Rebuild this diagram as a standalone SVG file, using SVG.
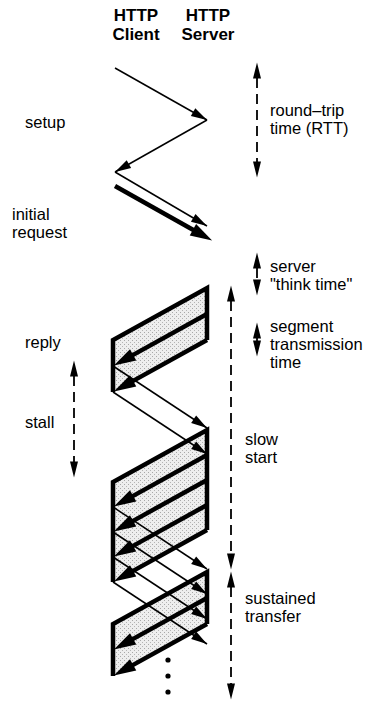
<svg xmlns="http://www.w3.org/2000/svg" width="382" height="706" viewBox="0 0 382 706">
  <style>
    .head { font-family: "Liberation Sans", Arial, sans-serif; font-weight: bold; font-size: 17px; fill: #000; text-anchor: middle; }
    .lbl { font-family: "Liberation Sans", Arial, sans-serif; font-size: 16.5px; fill: #000; }
    .thin { stroke: #000; stroke-width: 1.5; fill: none; }
    .thick { stroke: #000; stroke-width: 4.5; fill: none; }
    .edge { stroke: #000; stroke-width: 4.5; fill: none; stroke-linejoin: miter; }
    .span { stroke: #000; stroke-width: 1.8; fill: none; stroke-dasharray: 10 6; }
    .solid { stroke: #000; stroke-width: 1.8; fill: none; }
    .shade { fill: url(#stipple); stroke: none; }
  </style>
  <defs>
    <pattern id="stipple" width="4" height="4" patternUnits="userSpaceOnUse">
      <rect width="4" height="4" fill="#eeeeee"/>
      <rect x="0" y="0" width="1" height="1" fill="#a8a8a8"/>
      <rect x="2" y="2" width="1" height="1" fill="#b4b4b4"/>
    </pattern>
    <!-- head for thin message lines: tip sits on the line end -->
    <marker id="tip" markerUnits="userSpaceOnUse" markerWidth="16" markerHeight="10" refX="16" refY="4.5" orient="auto" overflow="visible">
      <path d="M0,0 L16,4.5 L0,9 z" fill="#000"/>
    </marker>
    <!-- head for thick segment lines: base sits on the line end -->
    <marker id="big" markerUnits="userSpaceOnUse" markerWidth="22" markerHeight="14" refX="1" refY="6.5" orient="auto" overflow="visible">
      <path d="M0,0 L22,6.5 L0,13 z" fill="#000"/>
    </marker>
    <!-- head for interval arrows: base sits on the line end -->
    <marker id="v" markerUnits="userSpaceOnUse" markerWidth="16" markerHeight="9" refX="0.5" refY="4" orient="auto-start-reverse" overflow="visible">
      <path d="M0,0 L16,4 L0,8 z" fill="#000"/>
    </marker>
  </defs>

  <rect width="382" height="706" fill="#fff"/>

  <!-- column headings -->
  <g id="client-head">
    <text class="head" x="136" y="21">HTTP</text>
    <text class="head" x="136" y="40">Client</text>
  </g>
  <g id="server-head">
    <text class="head" x="208" y="21">HTTP</text>
    <text class="head" x="208" y="40">Server</text>
  </g>

  <!-- data bursts: shaded windows with their outer edges -->
  <g id="burst-1">
    <polygon class="shade" points="207,288 207,340 113,392 113,340"/>
    <polyline class="edge" points="113,392 113,340 207,288 207,340"/>
  </g>
  <g id="burst-2">
    <polygon class="shade" points="207,430 207,530 113,582 113,482"/>
    <polyline class="edge" points="113,582 113,482 207,430 207,530"/>
  </g>
  <g id="burst-3">
    <polygon class="shade" points="207,572 207,624 113,676 113,624"/>
    <polyline class="edge" points="113,676 113,624 207,572 207,624"/>
  </g>

  <g id="connectors">
    <!-- connection setup and request -->
    <line class="thin" x1="115" y1="68" x2="207" y2="120" marker-end="url(#tip)"/>
    <line class="thin" x1="207" y1="120" x2="115" y2="172" marker-end="url(#tip)"/>
    <line class="thin" x1="115" y1="172" x2="207" y2="226" marker-end="url(#tip)"/>
    <line class="thick" x1="115" y1="186" x2="193.8" y2="230.2" marker-end="url(#big)"/>

    <!-- reply segments -->
    <line class="thick" x1="207" y1="314" x2="132.25" y2="355.35" marker-end="url(#big)"/>
    <line class="thick" x1="207" y1="340" x2="132.25" y2="381.35" marker-end="url(#big)"/>
    <line class="thick" x1="207" y1="455" x2="132.25" y2="496.35" marker-end="url(#big)"/>
    <line class="thick" x1="207" y1="480" x2="132.25" y2="521.35" marker-end="url(#big)"/>
    <line class="thick" x1="207" y1="505" x2="132.25" y2="546.35" marker-end="url(#big)"/>
    <line class="thick" x1="207" y1="530" x2="132.25" y2="571.35" marker-end="url(#big)"/>
    <line class="thick" x1="207" y1="598" x2="132.25" y2="639.35" marker-end="url(#big)"/>
    <line class="thick" x1="207" y1="624" x2="132.25" y2="665.35" marker-end="url(#big)"/>

    <!-- acknowledgements -->
    <line class="thin" x1="113" y1="366" x2="207" y2="428" marker-end="url(#tip)"/>
    <line class="thin" x1="113" y1="392" x2="207" y2="454" marker-end="url(#tip)"/>
    <line class="thin" x1="113" y1="507" x2="207" y2="569" marker-end="url(#tip)"/>
    <line class="thin" x1="113" y1="532" x2="207" y2="594" marker-end="url(#tip)"/>
    <line class="thin" x1="113" y1="557" x2="207" y2="619" marker-end="url(#tip)"/>
    <line class="thin" x1="113" y1="582" x2="207" y2="644" marker-end="url(#tip)"/>

    <!-- interval arrows -->
    <line class="span" x1="257" y1="78" x2="257" y2="162" marker-start="url(#v)" marker-end="url(#v)"/>
    <line class="span" x1="257" y1="268" x2="257" y2="280" marker-start="url(#v)" marker-end="url(#v)"/>
    <line class="solid" x1="257" y1="338" x2="257" y2="341" marker-start="url(#v)" marker-end="url(#v)"/>
    <line class="span" x1="74" y1="376" x2="74" y2="462" marker-start="url(#v)" marker-end="url(#v)"/>
    <line class="span" x1="231" y1="301" x2="231" y2="554" marker-start="url(#v)" marker-end="url(#v)"/>
    <line class="span" x1="231" y1="587" x2="231" y2="684" marker-start="url(#v)" marker-end="url(#v)"/>
  </g>

  <!-- continuation dots -->
  <g id="more">
    <circle cx="168" cy="660" r="2.6" fill="#000"/>
    <circle cx="168" cy="676" r="2.6" fill="#000"/>
    <circle cx="168" cy="692" r="2.6" fill="#000"/>
  </g>

  <!-- phase labels -->
  <g id="label-setup"><text class="lbl" x="25" y="128">setup</text></g>
  <g id="label-request"><text class="lbl" x="12" y="220">initial</text><text class="lbl" x="12" y="238">request</text></g>
  <g id="label-reply"><text class="lbl" x="25" y="348">reply</text></g>
  <g id="label-stall"><text class="lbl" x="25" y="428">stall</text></g>
  <g id="label-rtt"><text class="lbl" x="270" y="116">round–trip</text><text class="lbl" x="270" y="134">time (RTT)</text></g>
  <g id="label-think"><text class="lbl" x="270" y="272">server</text><text class="lbl" x="270" y="290">"think time"</text></g>
  <g id="label-segment"><text class="lbl" x="270" y="332">segment</text><text class="lbl" x="270" y="350">transmission</text><text class="lbl" x="270" y="368">time</text></g>
  <g id="label-slow"><text class="lbl" x="245" y="445">slow</text><text class="lbl" x="245" y="463">start</text></g>
  <g id="label-sustained"><text class="lbl" x="245" y="604">sustained</text><text class="lbl" x="245" y="622">transfer</text></g>
</svg>
